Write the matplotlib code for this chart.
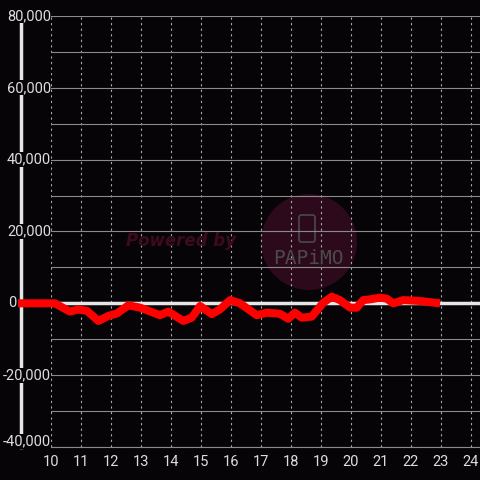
import matplotlib.pyplot as plt
from matplotlib.patches import Circle, FancyBboxPatch
from matplotlib.ticker import MultipleLocator
from matplotlib.transforms import blended_transform_factory

# data (hour of day, value)
hours = [8.9, 10.13, 10.63, 10.9, 11.2, 11.58, 11.91, 12.2, 12.58, 12.97, 13.63,
         13.91, 14.41, 14.69, 14.97, 15.36, 15.63, 15.97, 16.3, 16.86, 17.19,
         17.63, 17.91, 18.13, 18.36, 18.69, 19.08, 19.36, 19.63, 19.97, 20.19,
         20.41, 20.63, 20.97, 21.19, 21.41, 21.74, 22.3, 22.97]
values = [0, 0, -2300, -1700, -2100, -4900, -3500, -2800, -550, -1200, -3300,
          -2300, -4900, -4000, -740, -3000, -1700, 900, 0, -3300, -2600,
          -2900, -4300, -2600, -4000, -3700, 200, 1850, 900, -1200, -1200,
          900, 1100, 1600, 1300, 0, 900, 650, 0]
x_ticks = list(range(10, 25))
y_ticks = [-40000, -20000, 0, 20000, 40000, 60000, 80000]

bg = '#060407'
plt.rcParams['font.family'] = ['Roboto', 'DejaVu Sans']
fig = plt.figure(figsize=(4.8, 4.8), dpi=100, facecolor=bg)
ax = fig.add_axes([51 / 480, 33 / 480, 429 / 480, 431 / 480])
ax.set_facecolor(bg)

ax.set_xlim(10, 24.3)
ax.set_ylim(-40000, 80000)
ax.set_axisbelow(True)

ax.set_xticks(x_ticks)
ax.set_yticks(y_ticks)
ax.set_yticklabels([])
ax.yaxis.set_minor_locator(MultipleLocator(10000))

ax.grid(axis='x', color='#aaaaaa', linestyle=(0, (2, 3)), linewidth=0.8)
ax.grid(axis='y', which='both', color='#8a8a8a', linestyle='-', linewidth=0.8)

for s in ['top', 'right', 'left']:
    ax.spines[s].set_visible(False)
ax.spines['bottom'].set_color('#8a8a8a')
ax.spines['bottom'].set_linewidth(0.8)

ax.tick_params(axis='both', which='both', length=0, colors='#dddddd', labelsize=10.5)
ax.tick_params(axis='x', pad=6)

# white vertical axis line and zero line
ax.plot([9, 9], [-40000, 78000], color='#e6e6e6', linewidth=2.5, clip_on=False, zorder=1)
ax.axhline(0, color='#e6e6e6', linewidth=2.5, zorder=2)

# y labels drawn on top of the vertical line, with a dark box
trans = blended_transform_factory(fig.transFigure, ax.transData)
for v in y_ticks:
    xpos = 51 / 480
    ypos = v
    if v == 0:
        xpos = 16 / 480
    if v == y_ticks[0]:
        ypos = v + 1500
    ax.text(xpos, ypos, f'{v:,}', transform=trans, ha='right', va='center',
            color='#dddddd', fontsize=10.5, zorder=6, clip_on=False,
            bbox=dict(facecolor=bg, edgecolor='none', pad=0.3))

# watermark
circ = Circle((309 / 480, 1 - 242 / 480), 48 / 480, transform=fig.transFigure,
              facecolor='#2c0a1c', edgecolor='none', zorder=0.2, clip_on=False)
ax.add_patch(circ)
phone = FancyBboxPatch((299 / 480, 1 - 242 / 480), 16 / 480, 27 / 480,
                       boxstyle='round,pad=0,rounding_size=0.005',
                       transform=fig.transFigure, facecolor='none',
                       edgecolor='#4a4a4a', linewidth=1.2, zorder=0.3, clip_on=False)
ax.add_patch(phone)
fig.text(308 / 480, 1 - 258 / 480, 'PAPiMO', color='#4a4a4a', fontsize=14,
         ha='center', va='center', family='DejaVu Sans Mono', zorder=0.3)
fig.text(181 / 480, 1 - 241 / 480, 'Powered by', color='#3d0a20', fontsize=12,
         fontweight='bold', fontstyle='italic', ha='center', va='center',
         family='DejaVu Sans', zorder=0.3)

ax.plot(hours, values, color='#ff0000', linewidth=5.8, solid_joinstyle='round',
        solid_capstyle='butt', clip_on=False, zorder=4)

fig.savefig('out.png', dpi=100, facecolor=bg)
